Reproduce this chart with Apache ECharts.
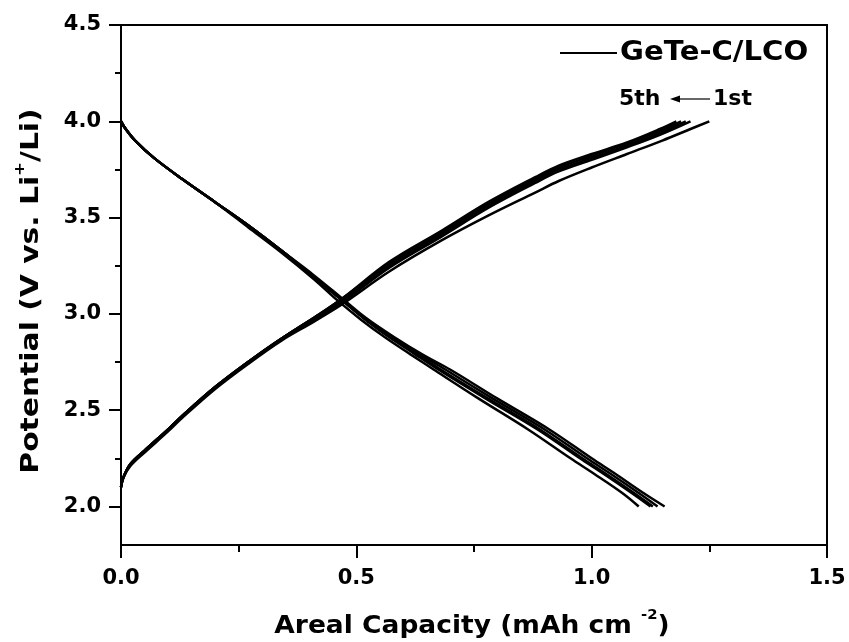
<!DOCTYPE html>
<html><head><meta charset="utf-8">
<script src="https://cdn.jsdelivr.net/npm/echarts@6/dist/echarts.min.js"></script>
<style>html,body{margin:0;padding:0;background:#fff}#c{width:849px;height:642px}</style>
</head><body><div id="c"></div>
<script>
// Tick values
const xTicks = [0, 0.5, 1.0, 1.5];
const yTicks = [2.0, 2.5, 3.0, 3.5, 4.0, 4.5];
const yMinorTicks = [2.25, 2.75, 3.25, 3.75, 4.25];

// Discharge curves [capacity, potential], cycles 1..5
const discharge1 = [[0,4.00],[0.01,3.96],[0.03,3.90],[0.07,3.81],[0.13,3.70],[0.20,3.58],[0.27,3.46],[0.34,3.33],[0.41,3.20],[0.47,3.08],[0.52,2.98],[0.58,2.88],[0.64,2.79],[0.70,2.71],[0.80,2.56],[0.91,2.40],[1.00,2.25],[1.05,2.17],[1.11,2.07],[1.155,2.00]];
const discharge2 = [[0,4.00],[0.01,3.96],[0.03,3.90],[0.07,3.81],[0.13,3.70],[0.20,3.58],[0.27,3.46],[0.34,3.33],[0.41,3.19],[0.47,3.07],[0.52,2.97],[0.575,2.88],[0.635,2.79],[0.69,2.71],[0.79,2.56],[0.90,2.40],[0.99,2.25],[1.04,2.17],[1.10,2.07],[1.14,2.00]];
const discharge3 = [[0,4.00],[0.01,3.96],[0.03,3.90],[0.07,3.81],[0.13,3.70],[0.20,3.58],[0.27,3.46],[0.34,3.33],[0.41,3.19],[0.47,3.07],[0.52,2.97],[0.57,2.88],[0.63,2.79],[0.68,2.71],[0.78,2.56],[0.89,2.40],[0.98,2.25],[1.03,2.17],[1.09,2.07],[1.13,2.00]];
const discharge4 = [[0,4.00],[0.01,3.96],[0.03,3.90],[0.07,3.81],[0.13,3.70],[0.20,3.58],[0.27,3.46],[0.34,3.33],[0.41,3.19],[0.47,3.07],[0.52,2.97],[0.57,2.88],[0.625,2.79],[0.675,2.71],[0.775,2.56],[0.885,2.40],[0.975,2.25],[1.025,2.17],[1.085,2.07],[1.125,2.00]];
const discharge5 = [[0,4.00],[0.01,3.96],[0.03,3.90],[0.07,3.81],[0.13,3.70],[0.20,3.58],[0.27,3.45],[0.34,3.32],[0.41,3.18],[0.46,3.07],[0.51,2.97],[0.56,2.88],[0.615,2.79],[0.665,2.71],[0.76,2.56],[0.865,2.40],[0.955,2.25],[1.005,2.17],[1.065,2.07],[1.10,2.00]];

// Charge curves [capacity, potential], cycles 1..5
const charge1 = [[0,2.10],[0.005,2.15],[0.02,2.21],[0.05,2.28],[0.10,2.39],[0.13,2.46],[0.20,2.61],[0.27,2.74],[0.34,2.86],[0.41,2.96],[0.47,3.05],[0.57,3.22],[0.68,3.38],[0.78,3.51],[0.88,3.63],[0.93,3.69],[1.00,3.76],[1.075,3.83],[1.15,3.90],[1.21,3.96],[1.25,4.00]];
const charge2 = [[0,2.10],[0.005,2.15],[0.02,2.22],[0.05,2.29],[0.10,2.40],[0.13,2.47],[0.20,2.62],[0.27,2.75],[0.34,2.87],[0.41,2.97],[0.47,3.06],[0.57,3.24],[0.68,3.40],[0.78,3.55],[0.88,3.68],[0.93,3.74],[1.00,3.80],[1.075,3.865],[1.145,3.93],[1.21,4.00]];
const charge3 = [[0,2.10],[0.005,2.15],[0.02,2.22],[0.05,2.29],[0.10,2.40],[0.13,2.47],[0.20,2.62],[0.27,2.75],[0.34,2.87],[0.41,2.98],[0.47,3.07],[0.57,3.25],[0.68,3.41],[0.78,3.56],[0.88,3.69],[0.93,3.75],[1.00,3.81],[1.075,3.875],[1.145,3.94],[1.20,4.00]];
const charge4 = [[0,2.10],[0.005,2.15],[0.02,2.22],[0.05,2.29],[0.10,2.40],[0.13,2.47],[0.20,2.62],[0.27,2.75],[0.34,2.87],[0.41,2.98],[0.47,3.08],[0.57,3.26],[0.68,3.42],[0.78,3.57],[0.88,3.70],[0.93,3.76],[1.00,3.82],[1.075,3.885],[1.145,3.95],[1.19,4.00]];
const charge5 = [[0,2.10],[0.005,2.15],[0.02,2.22],[0.05,2.29],[0.10,2.40],[0.13,2.47],[0.20,2.62],[0.27,2.75],[0.34,2.87],[0.41,2.98],[0.47,3.08],[0.57,3.27],[0.68,3.43],[0.78,3.58],[0.88,3.71],[0.93,3.77],[1.00,3.83],[1.075,3.89],[1.145,3.96],[1.18,4.00]];

const curves = [discharge1, discharge2, discharge3, discharge4, discharge5, charge1, charge2, charge3, charge4, charge5];

const FONT = 'DejaVu Sans';
const chart = echarts.init(document.getElementById('c'));
const fmt = v => Number(v).toFixed(1);
const titleRich = {
  b: { fontFamily: FONT, fontWeight: 'bold', fontSize: 25, lineHeight: 36, color: '#000', verticalAlign: 'middle' },
  s: { fontFamily: FONT, fontWeight: 'bold', fontSize: 14, lineHeight: 14, color: '#000', verticalAlign: 'top' }
};
const option = {
  backgroundColor: '#fff',
  animation: false,
  grid: { left: 121, right: 22, top: 25, bottom: 97, show: true, borderColor: '#000', borderWidth: 2, outerBoundsMode: 'none', containLabel: false },
  xAxis: [{
    type: 'value', min: 0, max: 1.5, interval: 0.5,
    axisLine: { show: true, onZero: false, lineStyle: { color: '#000', width: 2 } },
    axisTick: { show: true, inside: false, length: 13, lineStyle: { color: '#000', width: 2 } },
    minorTick: { show: true, splitNumber: 2, length: 7, lineStyle: { color: '#000', width: 2 } },
    splitLine: { show: false },
    axisLabel: { color: '#000', fontFamily: FONT, fontWeight: 'bold', fontSize: 21, margin: 23, formatter: fmt }
  }],
  yAxis: [{
    type: 'value', min: 1.8, max: 4.5,
    axisLine: { show: true, onZero: false, lineStyle: { color: '#000', width: 2 } },
    axisTick: { show: true, inside: false, length: 12, customValues: yTicks, lineStyle: { color: '#000', width: 2 } },
    splitLine: { show: false },
    axisLabel: { color: '#000', fontFamily: FONT, fontWeight: 'bold', fontSize: 21, margin: 20, customValues: yTicks, formatter: fmt }
  }, {
    type: 'value', min: 1.8, max: 4.5, position: 'left',
    axisLine: { show: false },
    axisTick: { show: true, inside: false, length: 6, customValues: yMinorTicks, lineStyle: { color: '#000', width: 2 } },
    axisLabel: { show: false, customValues: yMinorTicks },
    splitLine: { show: false }
  }],
  series: curves.map((d, i) => ({
    type: 'line', data: d, xAxisIndex: 0, yAxisIndex: 0,
    showSymbol: false, smooth: 0.35, silent: true,
    lineStyle: { color: '#000', width: 2.5 }
  })),
  graphic: [
    { type: 'text', x: 472, y: 626, scaleX: 1.06,
      style: { text: '{b|Areal Capacity (mAh cm }{s|-2}{b|)}', rich: titleRich, align: 'center', verticalAlign: 'middle' } },
    { type: 'text', x: 31, y: 291, rotation: Math.PI / 2, scaleX: 1.19,
      style: { text: '{b|Potential (V vs. Li}{s|+}{b|/Li)}', rich: titleRich, align: 'center', verticalAlign: 'middle' } },
    { type: 'line', shape: { x1: 560, y1: 53, x2: 617, y2: 53 }, style: { stroke: '#000', lineWidth: 2 } },
    { type: 'text', x: 620, y: 53, scaleX: 1.12, style: { text: 'GeTe-C/LCO', font: 'bold 26px "DejaVu Sans"', fill: '#000', verticalAlign: 'middle', align: 'left' } },
    { type: 'text', x: 619, y: 99, style: { text: '5th', font: 'bold 22px "DejaVu Sans"', fill: '#000', verticalAlign: 'middle', align: 'left' } },
    { type: 'line', shape: { x1: 678, y1: 99, x2: 710, y2: 99 }, style: { stroke: '#000', lineWidth: 1.2 } },
    { type: 'polygon', shape: { points: [[670, 99], [680, 95.5], [680, 102.5]] }, style: { fill: '#000' } },
    { type: 'text', x: 713, y: 99, style: { text: '1st', font: 'bold 22px "DejaVu Sans"', fill: '#000', verticalAlign: 'middle', align: 'left' } }
  ]
};
chart.setOption(option);
</script>
</body></html>
